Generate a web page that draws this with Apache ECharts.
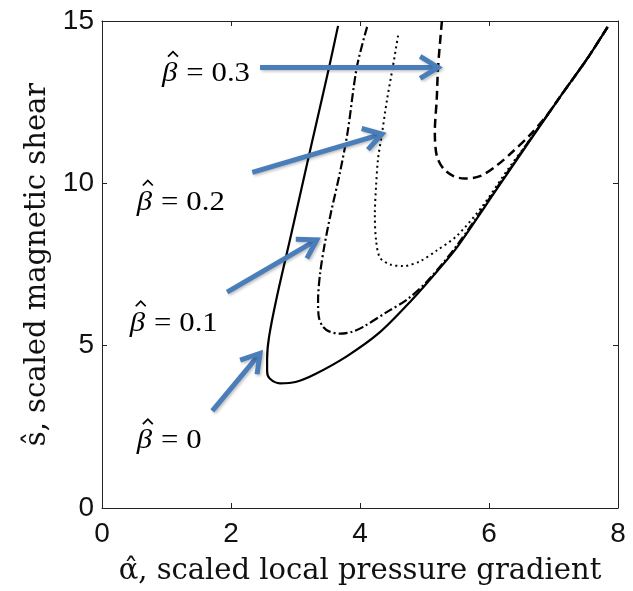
<!DOCTYPE html>
<html>
<head>
<meta charset="utf-8">
<script src="https://cdn.jsdelivr.net/npm/echarts@6/dist/echarts.min.js"></script>
<style>
  html, body { margin: 0; padding: 0; background: #fff; }
  #chart { width: 633px; height: 591px; }
</style>
</head>
<body>
<div id="chart"></div>
<script>
// Marginal-stability boundaries in the (alpha, s) plane for several beta values.
// Each curve is listed as [alpha, s] pairs in drawing order.
const curveBeta0 = [
  [3.66, 14.85], [3.52, 13.57], [3.34, 12.0], [3.15, 10.34], [2.93, 8.4],
  [2.71, 6.49], [2.59, 5.27], [2.56, 4.6], [2.56, 4.21], [2.6, 3.99],
  [2.76, 3.84], [3.0, 3.88], [3.3, 4.12], [3.8, 4.68], [4.3, 5.4],
  [4.8, 6.4], [5.2, 7.3], [5.5, 8.02], [6.12, 9.82], [6.64, 11.33],
  [7.15, 12.8], [7.52, 13.83], [7.84, 14.82]
];
const curveBeta01 = [
  [4.11, 14.82], [3.95, 13.57], [3.81, 11.6], [3.69, 10.34], [3.55, 9.1],
  [3.45, 8.1], [3.38, 7.2], [3.35, 6.4], [3.36, 5.9], [3.42, 5.6],
  [3.52, 5.44], [3.69, 5.37], [3.88, 5.43], [4.05, 5.58], [4.42, 6.04],
  [4.73, 6.42], [5.05, 7.0], [5.5, 8.08], [6.12, 9.86], [6.64, 11.36],
  [7.15, 12.8], [7.52, 13.83], [7.84, 14.82]
];
const curveBeta02 = [
  [4.59, 14.55], [4.51, 13.6], [4.42, 12.59], [4.34, 11.52], [4.28, 10.76],
  [4.25, 9.94], [4.23, 9.02], [4.25, 8.23], [4.31, 7.71], [4.47, 7.5],
  [4.67, 7.45], [4.93, 7.6], [5.19, 7.93], [5.5, 8.38], [5.9, 9.3],
  [6.3, 10.45], [6.64, 11.36], [7.15, 12.8], [7.52, 13.83], [7.84, 14.82]
];
const curveBeta03 = [
  [5.27, 15.0], [5.21, 13.57], [5.19, 12.59], [5.16, 11.59], [5.19, 10.85],
  [5.29, 10.46], [5.45, 10.22], [5.62, 10.15], [5.86, 10.22], [6.12, 10.55],
  [6.37, 10.98], [6.64, 11.5], [6.9, 12.1], [7.15, 12.8], [7.52, 13.83],
  [7.84, 14.82]
];

// Callout labels and the arrows that tie them to their curves (data units).
const betaValues = ['0.3', '0.2', '0.1', '0'];
const labelAnchors = [[0.93, 13.38], [0.54, 9.41], [0.43, 5.69], [0.54, 2.06]];
const arrowTails = [[2.45, 13.57], [2.33, 10.34], [1.94, 6.65], [1.71, 2.99]];
const arrowHeads = [[5.21, 13.57], [4.34, 11.52], [3.33, 8.26], [2.45, 4.76]];

const xLabel = 'α\u0302, scaled local pressure gradient';
const yLabel = 'ŝ, scaled magnetic shear';

const AXIS_COLOR = '#222';
const ARROW_COLOR = '#4A7EBB';

const chart = echarts.init(document.getElementById('chart'), null, { renderer: 'canvas' });

function frameAxis(extra) {
  return Object.assign({
    type: 'value',
    axisLine: { show: true, onZero: false, lineStyle: { color: AXIS_COLOR, width: 1 } },
    axisTick: { show: true, inside: true, length: 5, lineStyle: { color: AXIS_COLOR, width: 1 } },
    splitLine: { show: false },
    axisLabel: { show: false }
  }, extra);
}

const tickLabelX = { show: true, fontFamily: 'Liberation Sans', fontSize: 28, color: '#111', margin: 12 };
const tickLabelY = { show: true, fontFamily: 'Liberation Sans', fontSize: 28, color: '#111', margin: 8 };
const nameStyle = { fontFamily: 'DejaVu Serif', fontSize: 29, color: '#111' };

function curveSeries(data, dash, width) {
  return {
    type: 'line',
    data: data,
    showSymbol: false,
    smooth: 0.3,
    lineStyle: { color: '#000', width: width, type: dash, cap: 'butt' },
    z: 3
  };
}

const arrowData = arrowTails.map((t, i) => [t[0], t[1], arrowHeads[i][0], arrowHeads[i][1]]);
const labelData = labelAnchors.map((p, i) => [p[0], p[1], i]);

const serif = 'Liberation Serif';

chart.setOption({
  animation: false,
  backgroundColor: '#fff',
  grid: { left: 102, right: 15, top: 21, bottom: 78, containLabel: false },
  xAxis: [
    frameAxis({
      min: 0, max: 8, interval: 2, position: 'bottom',
      axisLabel: tickLabelX,
      name: xLabel, nameLocation: 'middle', nameGap: 49, nameTextStyle: nameStyle
    }),
    frameAxis({ min: 0, max: 8, interval: 2, position: 'top' })
  ],
  yAxis: [
    frameAxis({
      min: 0, max: 15, interval: 5, position: 'left',
      axisLabel: tickLabelY,
      name: yLabel, nameLocation: 'middle', nameGap: 45, nameTextStyle: nameStyle
    }),
    frameAxis({ min: 0, max: 15, interval: 5, position: 'right' })
  ],
  series: [
    curveSeries(curveBeta0, 'solid', 2.2),
    curveSeries(curveBeta01, [9, 3, 2, 3], 2.2),
    curveSeries(curveBeta02, [2, 3.5], 2),
    curveSeries(curveBeta03, [9, 5], 2.5),
    {
      // callout arrows: shaft plus open chevron head
      type: 'custom',
      coordinateSystem: 'cartesian2d',
      data: arrowData,
      z: 5,
      silent: true,
      renderItem: function (params, api) {
        const a = api.coord([api.value(0), api.value(1)]);
        const b = api.coord([api.value(2), api.value(3)]);
        const ang = Math.atan2(b[1] - a[1], b[0] - a[0]);
        const len = 21, spread = 0.55;
        const h1 = [b[0] - len * Math.cos(ang - spread), b[1] - len * Math.sin(ang - spread)];
        const h2 = [b[0] - len * Math.cos(ang + spread), b[1] - len * Math.sin(ang + spread)];
        const shadow = { shadowBlur: 3, shadowColor: 'rgba(0,0,0,0.25)', shadowOffsetX: 1.5, shadowOffsetY: 1.5 };
        return {
          type: 'group',
          children: [
            { type: 'line', shape: { x1: a[0], y1: a[1], x2: b[0] - 2 * Math.cos(ang), y2: b[1] - 2 * Math.sin(ang) },
              style: Object.assign({ stroke: ARROW_COLOR, lineWidth: 5 }, shadow) },
            { type: 'polyline', shape: { points: [h1, b, h2] },
              style: Object.assign({ stroke: ARROW_COLOR, lineWidth: 5, fill: null, lineJoin: 'miter' }, shadow) }
          ]
        };
      }
    },
    {
      // beta callout labels: italic beta with a hat, then "= value"
      type: 'custom',
      coordinateSystem: 'cartesian2d',
      data: labelData,
      z: 6,
      silent: true,
      clip: false,
      renderItem: function (params, api) {
        const p = api.coord([api.value(0), api.value(1)]);
        const v = betaValues[api.value(2)];
        const base = { fontFamily: serif, fontSize: 28, fill: '#000', verticalAlign: 'middle', align: 'left' };
        return {
          type: 'group',
          x: p[0], y: p[1],
          scaleX: 1.1,
          children: [
            { type: 'text', x: 0, y: 0, style: Object.assign({ text: 'β', fontStyle: 'italic' }, base) },
            { type: 'polyline', shape: { points: [[5.5, -17], [10, -22], [14.5, -17]] },
              style: { stroke: '#000', lineWidth: 1.6, fill: null } },
            { type: 'text', x: 22, y: 0, style: Object.assign({ text: '=' }, base) },
            { type: 'text', x: 45, y: 0, style: Object.assign({ text: v }, base) }
          ]
        };
      }
    }
  ]
});
</script>
</body>
</html>
